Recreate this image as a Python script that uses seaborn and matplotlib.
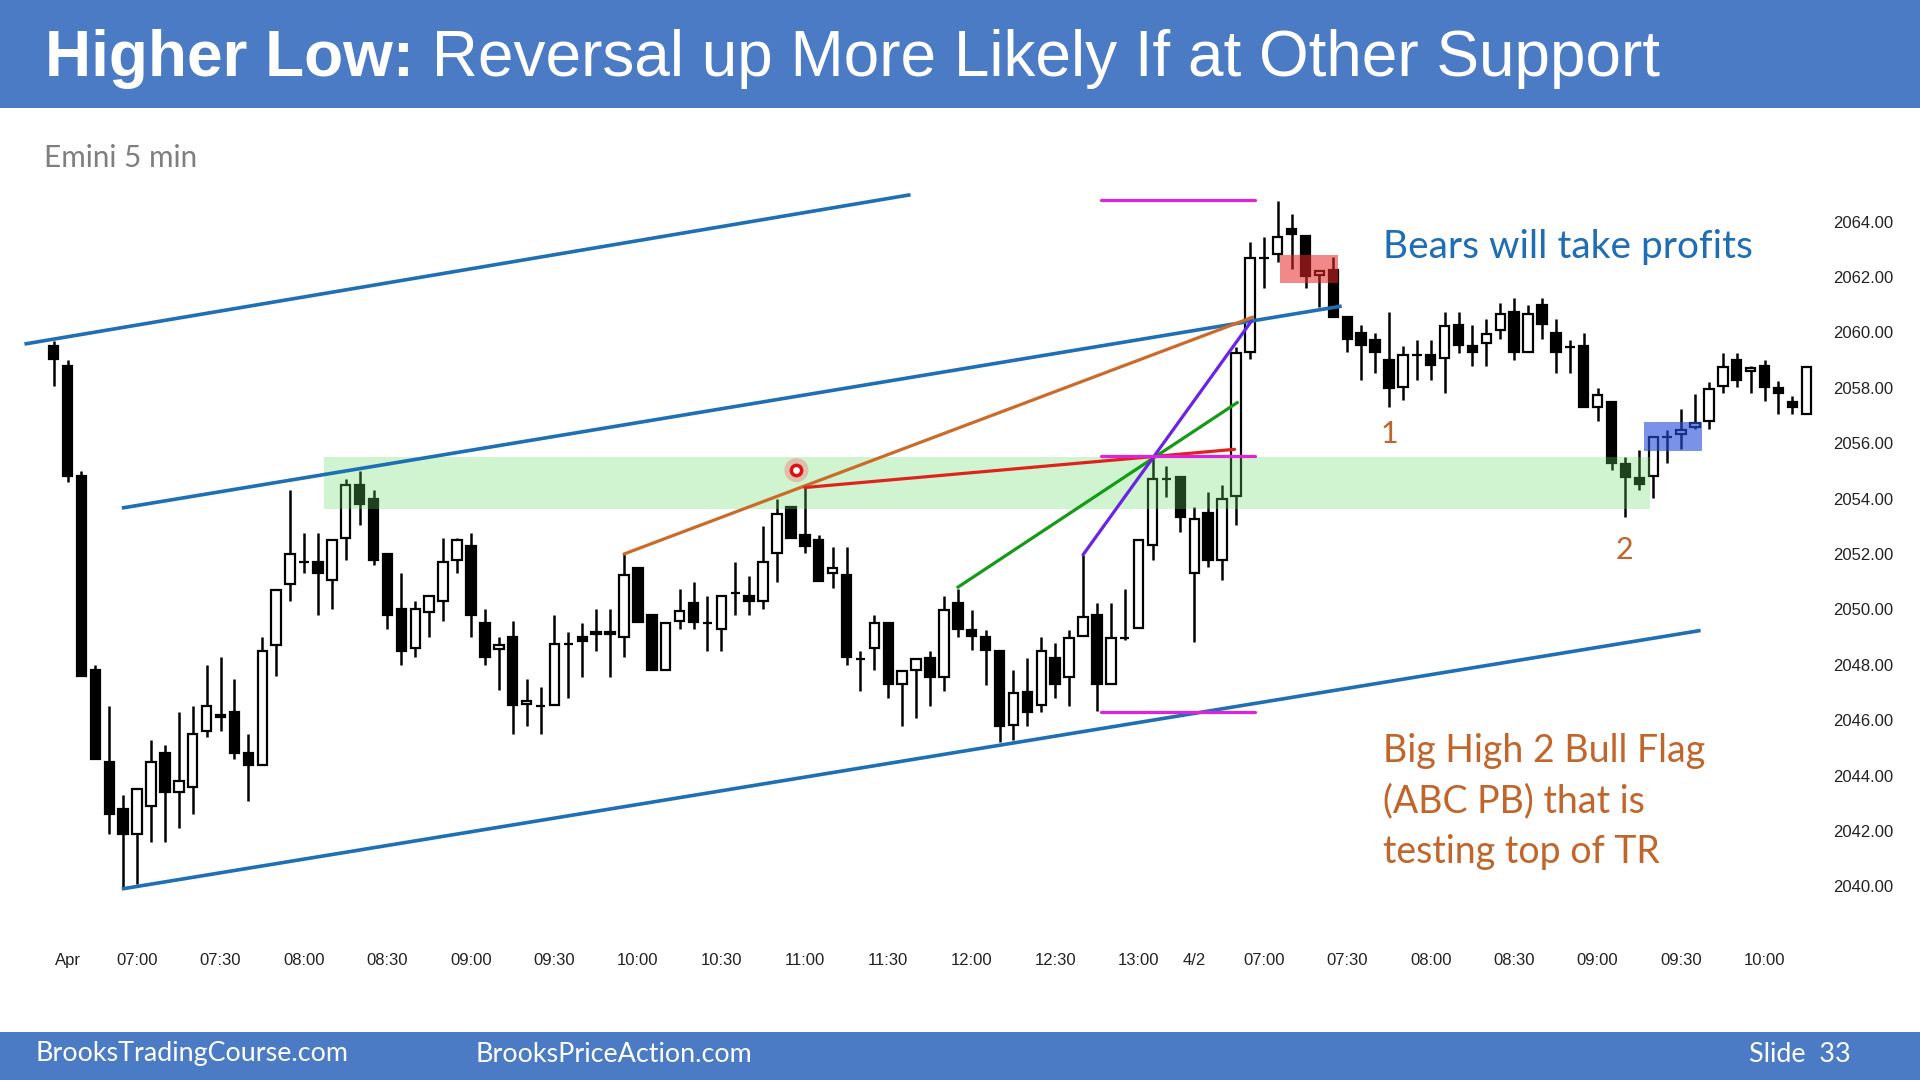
import numpy as np
import pandas as pd
import seaborn as sns
import matplotlib.pyplot as plt
from matplotlib.patches import Rectangle

# Emini 5 min bars (day 1 = first 82 bars, day 2 = the rest)
opens = [2059.5, 2058.8, 2054.8, 2047.8, 2044.5, 2042.8, 2041.9, 2042.9, 2044.8, 2043.4,
         2043.6, 2045.6, 2046.2, 2046.3, 2044.8, 2044.4, 2048.7, 2050.9, 2051.7, 2051.7,
         2051.06, 2052.57, 2054.5, 2054.0, 2052.0, 2050.0, 2048.6, 2049.9, 2050.3, 2051.8,
         2052.3, 2049.5, 2048.56, 2049.0, 2046.6, 2046.5, 2046.55, 2048.75, 2049.0, 2049.1,
         2049.2, 2049.0, 2051.5, 2049.8, 2047.8, 2049.6, 2050.25, 2049.5, 2049.3, 2050.6,
         2050.5, 2050.3, 2052.05, 2053.7, 2052.7, 2052.5, 2051.3, 2051.25, 2048.2, 2048.6,
         2049.5, 2047.3, 2047.8, 2048.24, 2047.55, 2050.25, 2049.26, 2049.0, 2048.5, 2045.83,
         2047.03, 2046.55, 2048.24, 2047.55, 2049.04, 2049.8, 2047.3, 2048.96, 2049.32, 2052.33,
         2054.7, 2054.77,
         2051.33, 2053.47, 2051.78, 2054.1, 2059.3, 2062.7, 2062.83, 2063.72, 2063.48, 2062.07,
         2062.25, 2060.54, 2059.99, 2059.72, 2059.0, 2058.04, 2059.2, 2059.2, 2059.06, 2060.26,
         2059.5, 2059.6, 2060.08, 2060.74, 2059.3, 2060.98, 2059.99, 2059.46, 2059.5, 2057.31,
         2057.5, 2055.25, 2054.73, 2054.81, 2056.21, 2056.35, 2056.59, 2056.81, 2058.06, 2059.0,
         2058.6, 2058.78, 2057.98, 2057.5, 2057.07]
highs = [2059.7, 2059.0, 2055.0, 2048.0, 2046.5, 2043.3, 2043.5, 2045.3, 2045.1, 2046.3,
         2046.5, 2048.0, 2048.3, 2047.5, 2045.5, 2049.0, 2050.7, 2054.3, 2052.75, 2052.75,
         2052.5, 2054.7, 2055.0, 2054.3, 2052.0, 2051.3, 2050.3, 2050.5, 2052.57, 2052.57,
         2052.75, 2050.0, 2049.0, 2049.6, 2047.5, 2047.2, 2049.8, 2049.2, 2049.5, 2050.0,
         2050.0, 2052.0, 2051.5, 2049.8, 2049.5, 2050.73, 2051.0, 2050.5, 2050.5, 2051.7,
         2051.2, 2053.0, 2054.0, 2053.7, 2054.4, 2052.7, 2052.27, 2052.27, 2048.5, 2049.8,
         2049.5, 2047.76, 2048.2, 2048.5, 2050.5, 2050.73, 2049.98, 2049.24, 2048.5, 2047.8,
         2048.24, 2049.0, 2048.8, 2049.24, 2051.97, 2050.25, 2050.25, 2050.73, 2052.5, 2055.46,
         2055.16, 2054.77,
         2053.7, 2054.25, 2054.5, 2059.48, 2063.27, 2063.45, 2064.75, 2064.27, 2063.48, 2062.25,
         2062.73, 2060.54, 2060.26, 2059.99, 2060.74, 2059.5, 2059.72, 2059.72, 2060.74, 2060.74,
         2060.26, 2060.5, 2061.05, 2061.26, 2060.98, 2061.26, 2060.5, 2059.72, 2059.99, 2057.98,
         2057.5, 2055.5, 2055.75, 2056.23, 2056.47, 2057.25, 2057.77, 2058.2, 2059.24, 2059.24,
         2058.78, 2059.0, 2058.25, 2057.7, 2058.76]
lows = [2058.05, 2054.6, 2047.6, 2044.6, 2041.9, 2039.9, 2040.1, 2041.6, 2041.6, 2042.1,
        2042.6, 2045.4, 2045.6, 2044.6, 2043.1, 2044.4, 2047.6, 2050.3, 2051.3, 2049.8,
        2050.0, 2051.8, 2053.05, 2051.6, 2049.3, 2048.0, 2048.3, 2049.0, 2049.6, 2051.3,
        2049.0, 2048.0, 2047.1, 2045.5, 2045.8, 2045.5, 2046.55, 2046.8, 2047.55, 2048.5,
        2047.55, 2048.3, 2049.56, 2047.8, 2047.8, 2049.3, 2049.3, 2048.5, 2048.5, 2049.8,
        2049.8, 2050.0, 2051.0, 2052.57, 2052.05, 2051.04, 2050.76, 2048.0, 2047.07, 2047.8,
        2046.8, 2045.8, 2046.07, 2046.5, 2047.07, 2049.02, 2048.54, 2047.28, 2045.2, 2045.3,
        2045.8, 2046.28, 2046.8, 2046.5, 2049.04, 2046.35, 2047.3, 2048.9, 2049.32, 2051.8,
        2054.07, 2052.8,
        2048.84, 2051.54, 2051.06, 2053.05, 2059.03, 2061.6, 2062.55, 2062.3, 2061.6, 2060.9,
        2060.57, 2059.3, 2058.28, 2058.54, 2057.29, 2057.56, 2058.28, 2058.28, 2057.8, 2059.26,
        2058.78, 2058.78, 2059.75, 2059.0, 2059.3, 2059.75, 2058.54, 2058.54, 2057.29, 2056.81,
        2055.05, 2053.32, 2054.31, 2054.04, 2055.27, 2055.78, 2056.5, 2056.5, 2057.8, 2058.04,
        2057.8, 2057.53, 2057.05, 2057.05, 2057.07]
closes = [2059.05, 2054.8, 2047.6, 2044.6, 2042.6, 2041.9, 2043.5, 2044.5, 2043.4, 2043.8,
          2045.5, 2046.5, 2046.1, 2044.8, 2044.4, 2048.5, 2050.7, 2052.0, 2051.7, 2051.3,
          2052.5, 2054.5, 2053.8, 2051.8, 2049.8, 2048.5, 2050.0, 2050.5, 2051.7, 2052.5,
          2049.8, 2048.3, 2048.7, 2046.55, 2046.7, 2046.5, 2048.75, 2048.75, 2048.85, 2049.2,
          2049.1, 2051.25, 2049.56, 2047.8, 2049.5, 2049.96, 2049.56, 2049.5, 2050.5, 2050.6,
          2050.3, 2051.7, 2053.45, 2052.57, 2052.3, 2051.04, 2051.5, 2048.27, 2048.2, 2049.5,
          2047.3, 2047.76, 2048.2, 2047.55, 2049.98, 2049.3, 2049.04, 2048.54, 2045.8, 2047.0,
          2046.28, 2048.5, 2047.3, 2048.96, 2049.74, 2047.3, 2048.96, 2048.96, 2052.5, 2054.7,
          2054.7, 2053.33,
          2053.26, 2051.78, 2053.97, 2059.24, 2062.7, 2062.7, 2063.43, 2063.55, 2062.03, 2062.23,
          2060.57, 2059.78, 2059.54, 2059.3, 2058.01, 2059.2, 2059.2, 2058.82, 2060.23, 2059.54,
          2059.3, 2059.94, 2060.68, 2059.3, 2060.68, 2060.3, 2059.3, 2059.46, 2057.29, 2057.74,
          2055.27, 2054.79, 2054.52, 2056.21, 2056.21, 2056.47, 2056.74, 2057.94, 2058.76, 2058.3,
          2058.73, 2058.04, 2057.82, 2057.3, 2058.76]

tick_idx = [1, 6, 12, 18, 24, 30, 36, 42, 48, 54, 60, 66, 72, 78, 82,
            87, 93, 99, 105, 111, 117, 123]
tick_lab = ['Apr', '07:00', '07:30', '08:00', '08:30', '09:00', '09:30', '10:00', '10:30',
            '11:00', '11:30', '12:00', '12:30', '13:00', '4/2',
            '07:00', '07:30', '08:00', '08:30', '09:00', '09:30', '10:00']
price_ticks = [2040, 2042, 2044, 2046, 2048, 2050, 2052, 2054, 2056, 2058, 2060, 2062, 2064]

# drawn lines (bar index, price)
chan_top_x = [-2.1, 61.6]
chan_top_y = [2059.58, 2064.97]
chan_mid_x = [4.9, 92.6]
chan_mid_y = [2053.66, 2060.95]
chan_bot_x = [4.9, 118.4]
chan_bot_y = [2039.91, 2049.24]
orange_x = [41, 86.2]
orange_y = [2052.0, 2060.55]
red_x = [54, 84.9]
red_y = [2054.4, 2055.78]
green_x = [65, 85.1]
green_y = [2050.8, 2057.47]
purple_x = [74, 86.1]
purple_y = [2051.97, 2060.4]
mag_x = [75.3, 86.4]
mag_levels = [2064.77, 2055.54, 2046.3]

# shaded boxes (x0, x1, y0, y1)
zone_green = [19.4, 114.8, 2053.61, 2055.51]
zone_red = [88.2, 92.3, 2061.77, 2062.79]
zone_blue = [114.3, 118.5, 2055.73, 2056.76]
dot_x, dot_y = 53.4, 2055.03

df = pd.DataFrame({'o': opens, 'h': highs, 'l': lows, 'c': closes})
df['i'] = np.arange(len(df))
df['up'] = df.c >= df.o

sns.set_theme(style='white')
plt.rcParams['font.family'] = ['Liberation Sans', 'DejaVu Sans']
calib = ['Lato', 'DejaVu Sans']

fig = plt.figure(figsize=(19.2, 10.8), dpi=100)
ax = fig.add_axes([0.00984, 0.14074, 0.9418, 0.7182])

# candles
ax.vlines(df.i, df.l, df.h, color='black', lw=1.8, zorder=2)
body_lo = np.minimum(df.o, df.c)
body_h = (df.c - df.o).abs()
ax.bar(df.i, body_h, bottom=body_lo, width=0.68,
       color=np.where(df.up, 'white', 'black'), edgecolor='black', linewidth=1.6, zorder=3)

# zones
for z, col, a in [(zone_green, (0.39, 0.86, 0.39), 0.3),
                  (zone_red, (0.9, 0.16, 0.16), 0.55),
                  (zone_blue, (0.16, 0.31, 0.86), 0.62)]:
    ax.add_patch(Rectangle((z[0], z[2]), z[1] - z[0], z[3] - z[2], facecolor=col,
                           alpha=a, edgecolor='none', zorder=4))

# lines
blue = '#1F6FB4'
ax.plot(chan_top_x, chan_top_y, color=blue, lw=2.6, zorder=5, solid_capstyle='butt')
ax.plot(chan_mid_x, chan_mid_y, color=blue, lw=2.6, zorder=5, solid_capstyle='butt')
ax.plot(chan_bot_x, chan_bot_y, color=blue, lw=2.6, zorder=5, solid_capstyle='butt')
ax.plot(orange_x, orange_y, color='#CC6A2A', lw=2.3, zorder=5)
ax.plot(red_x, red_y, color='#E0221E', lw=2.3, zorder=5)
ax.plot(green_x, green_y, color='#159A15', lw=2.3, zorder=5)
ax.plot(purple_x, purple_y, color='#6A22E6', lw=2.3, zorder=6)
for lv in mag_levels:
    ax.plot(mag_x, [lv, lv], color='#DE22DE', lw=2.3, zorder=6)

sns.scatterplot(x=[dot_x], y=[dot_y], s=300, color='#F08080', alpha=0.45,
                edgecolor='none', ax=ax, zorder=7)
sns.scatterplot(x=[dot_x], y=[dot_y], s=55, color='white', edgecolor='#E01010',
                linewidth=2.5, ax=ax, zorder=8)

orange_txt = '#C2652A'
ax.text(96.0, 2056.35, '1', color=orange_txt, fontsize=22, family=calib,
        ha='center', va='center', zorder=9)
ax.text(112.9, 2052.15, '2', color=orange_txt, fontsize=22, family=calib,
        ha='center', va='center', zorder=9)

ax.set_xlim(-2.5, 127.5)
ax.set_ylim(2038.5, 2066.5)
ax.set_xticks(tick_idx)
ax.set_xticklabels(tick_lab)
ax.set_yticks(price_ticks)
ax.set_yticklabels([f'{p:.2f}' for p in price_ticks])
ax.yaxis.tick_right()
ax.tick_params(axis='x', length=0, pad=18, labelsize=12, labelcolor='#222222')
ax.tick_params(axis='y', length=0, pad=4, labelsize=12, labelcolor='#222222')
for s in ax.spines.values():
    s.set_visible(False)
ax.grid(False)
ax.set_facecolor('white')

# header and footer bars
hdr = '#4A7BC4'
fig.patches.append(Rectangle((0, 1 - 108 / 1080), 1, 108 / 1080, transform=fig.transFigure,
                             facecolor=hdr, edgecolor='none', zorder=0))
fig.patches.append(Rectangle((0, 0), 1, 48 / 1080, transform=fig.transFigure,
                             facecolor=hdr, edgecolor='none', zorder=0))

t1 = fig.text(45 / 1920, 1 - 76 / 1080, 'Higher Low:', color='white', fontsize=46,
              fontweight='bold', va='baseline')
fig.canvas.draw()
bb = t1.get_window_extent(fig.canvas.get_renderer())
fig.text(bb.x1 / 1920, 1 - 76 / 1080, ' Reversal up More Likely If at Other Support',
         color='white', fontsize=46, va='baseline')

fig.text(44 / 1920, 1 - 158 / 1080, 'Emini 5 min', color='#7F7F7F', fontsize=21.4,
         family=calib, va='center')
fig.text(1383 / 1920, 1 - 258 / 1080, 'Bears will take profits', color='#1F6DB5',
         fontsize=28, family=calib, va='baseline')
for k, line in enumerate(['Big High 2 Bull Flag', '(ABC PB) that is', 'testing top of TR']):
    fig.text(1383 / 1920, 1 - (762 + 50.5 * k) / 1080, line, color=orange_txt,
             fontsize=27, family=calib, va='baseline')

fig.text(35 / 1920, 1 - 1054 / 1080, 'BrooksTradingCourse.com', color='white',
         fontsize=19.4, family=calib, va='center')
fig.text(475 / 1920, 1 - 1054 / 1080, 'BrooksPriceAction.com', color='white',
         fontsize=19.4, family=calib, va='center')
fig.text(1851 / 1920, 1 - 1054 / 1080, 'Slide  33', color='white',
         fontsize=19.4, family=calib, va='center', ha='right')

fig.savefig('out.png', dpi=100, facecolor='white')
